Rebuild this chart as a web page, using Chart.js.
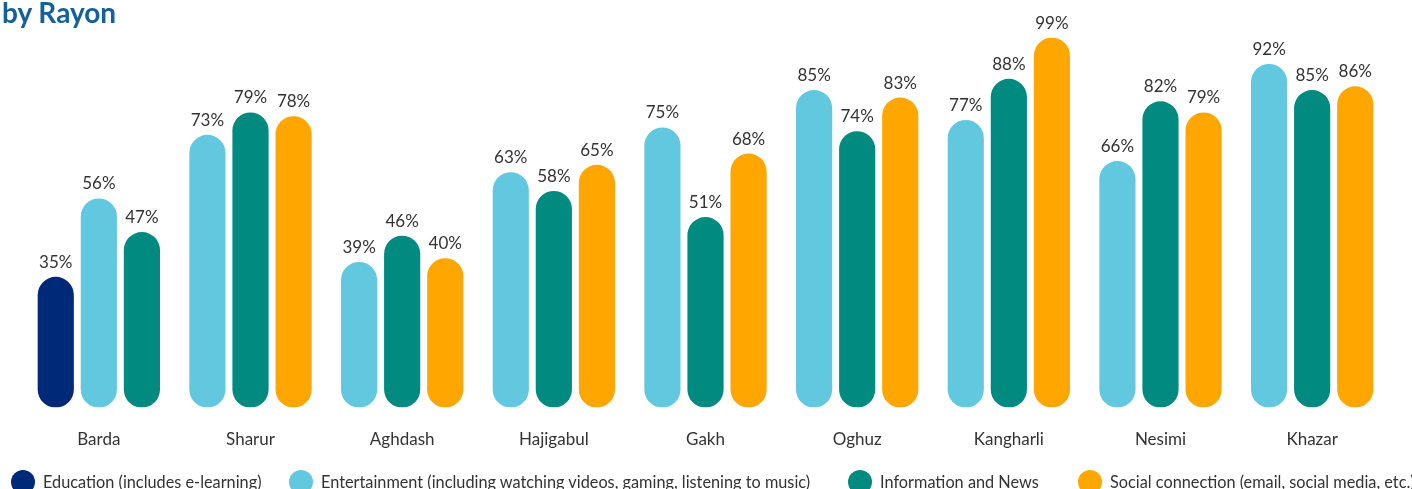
<!DOCTYPE html>
<html>
<head>
<meta charset="utf-8">
<script src="https://cdn.jsdelivr.net/npm/chart.js@4/dist/chart.umd.min.js"></script>
<style>
  html, body { margin: 0; padding: 0; background: #fff; }
  #wrap { position: relative; width: 1412px; height: 489px; overflow: hidden; }
  #chart { position: absolute; left: 0; top: 0; }
  #title { position: absolute; left: 2px; top: -5px; font: bold 28px Lato, sans-serif; color: #14609c; white-space: nowrap; }
  .lg { position: absolute; top: 470px; height: 24px; font: 16.3px Lato, sans-serif; color: #333; white-space: nowrap; }
  .lg i { position: absolute; left: 0; top: 0; width: 24px; height: 24px; border-radius: 50%; }
  .lg span { position: absolute; left: 32px; top: 2px; line-height: 20px; }
</style>
</head>
<body>
<div id="wrap">
  <canvas id="chart" width="1412" height="489"></canvas>
  <div id="title">by Rayon</div>
  <div id="legend"></div>
</div>
<script>
// Rayons (districts) along the x axis
const rayons = ["Barda", "Sharur", "Aghdash", "Hajigabul", "Gakh", "Oghuz", "Kangharli", "Nesimi", "Khazar"];

// Share of respondents by purpose of internet use (%), null where not reported
const education     = [35, null, null, null, null, null, null, null, null];
const entertainment = [56, 73, 39, 63, 75, 85, 77, 66, 92];
const information   = [47, 79, 46, 58, 51, 74, 88, 82, 85];
const social        = [null, 78, 40, 65, 68, 83, 99, 79, 86];

const seriesNames = [
  "Education (includes e-learning)",
  "Entertainment (including watching videos, gaming, listening to music)",
  "Information and News",
  "Social connection (email, social media, etc.)"
];
const seriesColors = ["#002a78", "#62c8e0", "#008a80", "#ffa600"];
const seriesValues = [education, entertainment, information, social];

// Each rayon shows only its reported series, packed side by side:
// place them into three slots so every group stays centred on its label.
const SLOTS = 3;
const slotData = Array.from({ length: SLOTS }, () => rayons.map(() => null));
const slotColors = Array.from({ length: SLOTS }, () => rayons.map(() => "transparent"));
rayons.forEach((_, i) => {
  let s = 0;
  seriesValues.forEach((vals, k) => {
    if (vals[i] !== null && s < SLOTS) {
      slotData[s][i] = vals[i];
      slotColors[s][i] = seriesColors[k];
      s++;
    }
  });
});

const datasets = slotData.map((data, s) => ({
  data,
  backgroundColor: slotColors[s],
  borderRadius: 40,
  borderSkipped: false,
  categoryPercentage: 0.852,
  barPercentage: 0.84
}));

// Percentage labels above each bar
const valueLabels = {
  id: "valueLabels",
  afterDatasetsDraw(chart) {
    const ctx = chart.ctx;
    ctx.save();
    ctx.font = "17px Lato, sans-serif";
    ctx.fillStyle = "#333";
    ctx.textAlign = "center";
    ctx.textBaseline = "alphabetic";
    chart.data.datasets.forEach((ds, di) => {
      chart.getDatasetMeta(di).data.forEach((bar, i) => {
        const v = ds.data[i];
        if (v === null) return;
        ctx.fillText(v + "%", bar.x, bar.y - 9);
      });
    });
    ctx.restore();
  }
};

new Chart(document.getElementById("chart"), {
  type: "bar",
  data: { labels: rayons, datasets },
  options: {
    responsive: false,
    animation: false,
    layout: { padding: { left: 23, right: 24, top: 34, bottom: 17 } },
    plugins: { legend: { display: false }, tooltip: { enabled: false } },
    scales: {
      x: {
        grid: { display: false, drawTicks: false },
        border: { display: false },
        ticks: { color: "#333", font: { family: "Lato", size: 17 }, padding: 22 }
      },
      y: {
        display: false,
        min: 0,
        max: 100
      }
    }
  },
  plugins: [valueLabels]
});

// Legend
const legendLeft = [11, 289, 848, 1078];
const legend = document.getElementById("legend");
seriesNames.forEach((name, k) => {
  const d = document.createElement("div");
  d.className = "lg";
  d.style.left = legendLeft[k] + "px";
  const dot = document.createElement("i");
  dot.style.background = seriesColors[k];
  const t = document.createElement("span");
  t.textContent = name;
  d.appendChild(dot);
  d.appendChild(t);
  legend.appendChild(d);
});
</script>
</body>
</html>
